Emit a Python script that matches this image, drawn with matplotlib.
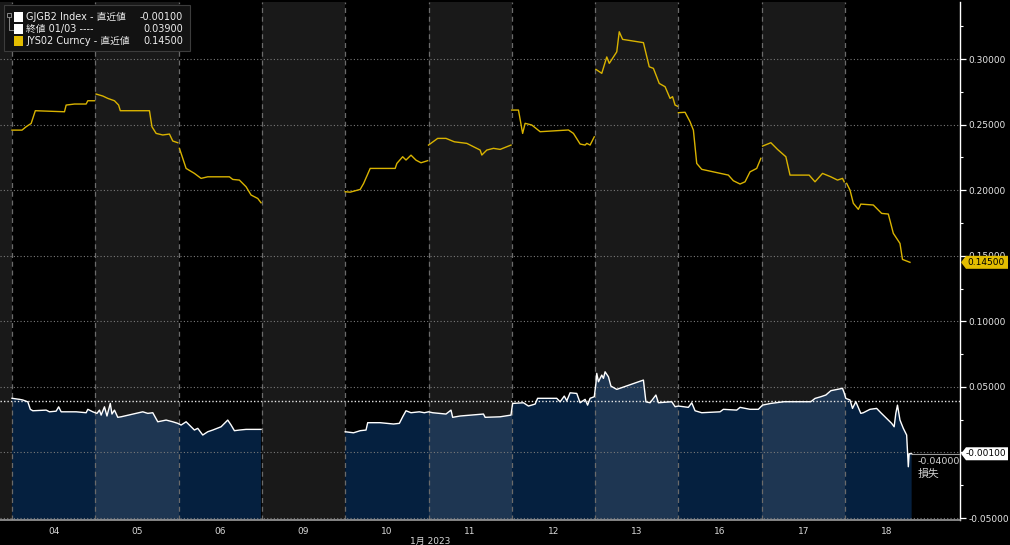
import numpy as np
import matplotlib
matplotlib.use('Agg')
import matplotlib.pyplot as plt
from matplotlib.patches import Polygon, Rectangle

nan = np.nan

# ---------------- data ----------------
days = ['04', '05', '06', '09', '10', '11', '12', '13', '16', '17', '18']
month_label = '1月 2023'
y_ticks = [-0.05, 0.0, 0.05, 0.10, 0.15, 0.20, 0.25, 0.30]
close_0103 = 0.039
jys_last = 0.145
gjgb_last = -0.001

# time = trading-day index + fraction of session ; nan = break
jys_t = [0.00, 0.12, 0.17, 0.23, 0.28, 0.63, 0.65, 0.75, 0.89, 0.91, 0.99, nan,
         1.01, 1.09, 1.15, 1.23, 1.28, 1.30, 1.65, 1.68, 1.73, 1.81, 1.89, 1.93, 1.99, nan,
         2.01, 2.09, 2.19, 2.27, 2.35, 2.61, 2.65, 2.73, 2.81, 2.87, 2.91, 2.95, 2.99, nan,
         4.00, 4.06, 4.18, 4.22, 4.30, 4.60, 4.62, 4.69, 4.73, 4.79, 4.85, 4.91, 4.99, nan,
         5.00, 5.11, 5.21, 5.31, 5.46, 5.62, 5.64, 5.70, 5.78, 5.86, 5.94, 5.99, nan,
         6.00, 6.08, 6.13, 6.16, 6.24, 6.34, 6.68, 6.74, 6.82, 6.88, 6.90, 6.94, 6.99, nan,
         7.01, 7.08, 7.14, 7.17, 7.26, 7.29, 7.33, 7.58, 7.65, 7.70, 7.77, 7.84, 7.90, 7.93, 7.96, 7.99, nan,
         8.00, 8.08, 8.14, 8.18, 8.22, 8.28, 8.60, 8.66, 8.74, 8.80, 8.86, 8.94, 8.99, nan,
         9.01, 9.11, 9.19, 9.29, 9.34, 9.57, 9.64, 9.73, 9.83, 9.91, 9.97, 9.99, nan,
         10.02, 10.06, 10.10, 10.16, 10.19, 10.34, 10.44, 10.52, 10.58, 10.66, 10.69, 10.78]
jys_v = [0.2458, 0.2458, 0.2484, 0.2509, 0.2606, 0.2598, 0.2649, 0.2657, 0.2657, 0.2682, 0.2682, nan,
         0.2733, 0.2718, 0.2700, 0.2682, 0.2649, 0.2606, 0.2606, 0.2484, 0.2433, 0.2421, 0.2428, 0.2375, 0.2362, nan,
         0.2319, 0.2166, 0.2128, 0.2090, 0.2102, 0.2102, 0.2082, 0.2077, 0.2026, 0.1963, 0.1950, 0.1937, 0.1904, nan,
         0.1988, 0.1985, 0.2006, 0.2050, 0.2166, 0.2166, 0.2204, 0.2255, 0.2230, 0.2267, 0.2229, 0.2209, 0.2225, nan,
         0.2344, 0.2395, 0.2395, 0.2369, 0.2357, 0.2306, 0.2268, 0.2306, 0.2319, 0.2311, 0.2331, 0.2344, nan,
         0.2611, 0.2611, 0.2433, 0.2510, 0.2497, 0.2446, 0.2459, 0.2433, 0.2352, 0.2344, 0.2357, 0.2344, 0.2407, nan,
         0.2921, 0.2891, 0.3016, 0.2967, 0.3055, 0.3208, 0.3150, 0.3125, 0.2941, 0.2929, 0.2814, 0.2789, 0.2700, 0.2713, 0.2649, 0.2640, nan,
         0.2591, 0.2594, 0.2522, 0.2458, 0.2204, 0.2159, 0.2115, 0.2072, 0.2047, 0.2064, 0.2140, 0.2166, 0.2243, nan,
         0.2336, 0.2362, 0.2311, 0.2255, 0.2115, 0.2115, 0.2064, 0.2128, 0.2102, 0.2077, 0.2090, 0.2064, nan,
         0.2052, 0.2001, 0.1900, 0.1854, 0.1894, 0.1887, 0.1823, 0.1818, 0.1671, 0.1594, 0.1472, 0.1450]

gjgb_t = [0.00, 0.09, 0.13, 0.19, 0.22, 0.25, 0.41, 0.45, 0.53, 0.56, 0.59, 0.77, 0.89, 0.91, 0.97,
          1.02, 1.05, 1.07, 1.11, 1.14, 1.18, 1.20, 1.23, 1.27, 1.31, 1.57, 1.63, 1.69, 1.75, 1.85, 1.93, 1.99,
          2.03, 2.09, 2.15, 2.19, 2.23, 2.29, 2.35, 2.41, 2.51, 2.59, 2.63, 2.67, 2.73, 2.81, 2.99, nan,
          4.00, 4.10, 4.18, 4.25, 4.27, 4.42, 4.58, 4.65, 4.69, 4.73, 4.79, 4.89, 4.95,
          5.00, 5.05, 5.21, 5.27, 5.29, 5.38, 5.66, 5.68, 5.86, 5.99,
          6.01, 6.14, 6.20, 6.28, 6.31, 6.54, 6.58, 6.63, 6.66, 6.70, 6.78, 6.82, 6.88, 6.91, 6.94, 6.99,
          7.01, 7.02, 7.04, 7.08, 7.10, 7.12, 7.16, 7.19, 7.26, 7.58, 7.61, 7.66, 7.73, 7.76, 7.92, 7.96,
          8.00, 8.12, 8.16, 8.20, 8.28, 8.50, 8.54, 8.70, 8.74, 8.86, 8.96,
          9.01, 9.11, 9.27, 9.59, 9.64, 9.71, 9.77, 9.83, 9.91, 9.97, 9.99,
          10.01, 10.06, 10.09, 10.13, 10.19, 10.22, 10.30, 10.38, 10.43, 10.56, 10.59, 10.61, 10.63,
          10.66, 10.70, 10.74, 10.76, 10.77, 10.80]
gjgb_v = [0.0413, 0.0405, 0.0400, 0.0386, 0.0329, 0.0318, 0.0323, 0.0310, 0.0315, 0.0348, 0.0310, 0.0310, 0.0303, 0.0329, 0.0310,
          0.0298, 0.0323, 0.0285, 0.0348, 0.0278, 0.0374, 0.0293, 0.0323, 0.0268, 0.0272, 0.0310, 0.0298, 0.0303, 0.0234, 0.0247, 0.0234, 0.0222,
          0.0209, 0.0234, 0.0196, 0.0171, 0.0184, 0.0133, 0.0158, 0.0171, 0.0196, 0.0247, 0.0209, 0.0166, 0.0171, 0.0176, 0.0176, nan,
          0.0158, 0.0150, 0.0166, 0.0171, 0.0227, 0.0227, 0.0217, 0.0222, 0.0272, 0.0318, 0.0303, 0.0310, 0.0303,
          0.0310, 0.0303, 0.0293, 0.0323, 0.0268, 0.0278, 0.0293, 0.0268, 0.0272, 0.0285,
          0.0374, 0.0379, 0.0354, 0.0369, 0.0413, 0.0413, 0.0386, 0.0430, 0.0394, 0.0455, 0.0450, 0.0379, 0.0405, 0.0361, 0.0413, 0.0425,
          0.0527, 0.0603, 0.0539, 0.0590, 0.0565, 0.0615, 0.0577, 0.0506, 0.0481, 0.0552, 0.0386, 0.0379, 0.0438, 0.0379, 0.0387, 0.0349,
          0.0354, 0.0344, 0.0379, 0.0318, 0.0303, 0.0310, 0.0329, 0.0323, 0.0344, 0.0329, 0.0329,
          0.0361, 0.0374, 0.0387, 0.0387, 0.0412, 0.0425, 0.0438, 0.0471, 0.0481, 0.0489, 0.0455,
          0.0412, 0.0400, 0.0336, 0.0387, 0.0298, 0.0303, 0.0329, 0.0336, 0.0303, 0.0222, 0.0196, 0.0298, 0.0361,
          0.0247, 0.0184, 0.0133, -0.0109, -0.0010, -0.0010]

# ---------------- styling ----------------
FONT = ['DejaVu Sans', 'Noto Sans CJK JP']
plt.rcParams['font.family'] = FONT
W, H = 1010, 545
fig = plt.figure(figsize=(W / 100, H / 100), dpi=100, facecolor='black')
ax = fig.add_axes([0, 25 / H, 960 / W, 518 / H], facecolor='black')

XMIN, XMAX = -12 / 83.3, 948 / 83.3
YMIN, YMAX = -0.0515, 0.3435
ax.set_xlim(XMIN, XMAX)
ax.set_ylim(YMIN, YMAX)

t_g = np.array(gjgb_t, dtype=float)
v_g = np.array(gjgb_v, dtype=float)
t_j = np.array(jys_t, dtype=float)
v_j = np.array(jys_v, dtype=float)

NAVY = '#05203f'
ax.fill_between(t_g, v_g, YMIN, where=~np.isnan(v_g), color=NAVY, lw=0, zorder=1)

# alternating session shading
shade_starts = [XMIN, 1, 3, 5, 7, 9]
for s in shade_starts:
    e = 0 if s == XMIN else s + 1
    ax.axvspan(s, e, color='white', alpha=0.1, lw=0, zorder=1.5)

# vertical session separators
for i in range(len(days)):
    ax.axvline(i, color='#6a6a6a', lw=0.9, ls=(0, (4, 3)), zorder=2)

# horizontal grid
for yv in y_ticks:
    ax.axhline(yv, color='#7a7a7a', lw=0.8, ls=(0, (1, 2)), zorder=2)
ax.axhline(close_0103, color='#e8e8e8', lw=1.0, ls=(0, (1, 1.5)), zorder=2.5)

# series
ax.plot(t_j, v_j, color='#d9b300', lw=1.0, zorder=3)
ax.plot(t_g, v_g, color='white', lw=1.0, zorder=3.2)
ax.plot([t_g[-1], XMAX], [gjgb_last, gjgb_last], color='#9a9a9a', lw=0.8, zorder=2.6)

# axes
for sp in ['top', 'left']:
    ax.spines[sp].set_visible(False)
ax.spines['right'].set_color('white')
ax.spines['right'].set_linewidth(1.0)
ax.spines['bottom'].set_color('#9a9a9a')
ax.spines['bottom'].set_linewidth(1.2)

ax.yaxis.tick_right()
ax.set_yticks(y_ticks)
# the 0.00000 label sits under the last-value tag, as in the reference
ax.set_yticklabels(['' if v == 0 else ('%.5f' % v if v > 0 else '-%.5f' % abs(v)) for v in y_ticks])
ax.set_yticks(np.arange(-0.025, 0.33, 0.05), minor=True)
ax.tick_params(axis='y', which='major', colors='white', labelcolor='#e6e6e6',
               length=4, width=0.9, labelsize=6.5, pad=2)
ax.tick_params(axis='y', which='minor', colors='white', length=2.5, width=0.8)

ax.set_xticks(np.arange(len(days)) + 0.5)
ax.set_xticklabels(days)
ax.tick_params(axis='x', length=0, labelcolor='#d8d8d8', labelsize=6.5, pad=5)
fig.text(430 / W, 1 - 541 / H, month_label, color='#d8d8d8', fontsize=6.5,
         ha='center', va='center', family=FONT)

# --------- value tags on right axis ---------
def to_fig(xpix, ypix_disp):
    return fig.transFigure.inverted().transform((xpix, ypix_disp))

def tag(val, face, txt, txtcol):
    yd = ax.transData.transform((0, val))[1]
    x0 = 961
    pts_pix = [(x0, yd), (x0 + 5, yd + 6.5), (1008, yd + 6.5), (1008, yd - 6.5), (x0 + 5, yd - 6.5)]
    pts = [to_fig(px, py) for px, py in pts_pix]
    fig.patches.append(Polygon(pts, closed=True, facecolor=face, edgecolor='none',
                               transform=fig.transFigure, zorder=10))
    cx, cy = to_fig(986, yd)
    fig.text(cx, cy, txt, color=txtcol, fontsize=6.5, ha='center', va='center', zorder=11)

tag(jys_last, '#e3bd00', '%.5f' % jys_last, 'black')
tag(gjgb_last, 'white', '-%.5f' % abs(gjgb_last), 'black')

# loss annotation
fig.text(918 / W, 1 - 462 / H, '-0.04000', color='#d0d0d0', fontsize=6.8, ha='left', va='center')
fig.text(918 / W, 1 - 474 / H, '損失', color='#d0d0d0', fontsize=7.8, ha='left', va='center', family=FONT)

# --------- legend box ---------
def fx(px):
    return px / W

def fy(py):
    return 1 - py / H

fig.patches.append(Rectangle((fx(4), fy(51)), fx(190) - fx(4), fy(5) - fy(51),
                             transform=fig.transFigure, facecolor='#121212',
                             edgecolor='#3c3c3c', lw=0.8, zorder=10))
# tree icon
fig.patches.append(Rectangle((fx(7), fy(17)), fx(4), 4 / H, transform=fig.transFigure,
                             facecolor='none', edgecolor='#9a9a9a', lw=0.6, zorder=11))
fig.add_artist(plt.Line2D([fx(9), fx(9), fx(13)], [fy(17), fy(30), fy(30)],
                          transform=fig.transFigure, color='#9a9a9a', lw=0.6, zorder=11))

legend_rows = [('white', 'GJGB2 Index - 直近値', '-0.00100', 17),
               ('white', '終値 01/03 ----', '0.03900', 29),
               ('#e3bd00', 'JYS02 Curncy - 直近値', '0.14500', 41)]
for col, lab, val, py in legend_rows:
    fig.patches.append(Rectangle((fx(14), fy(py + 4.5)), fx(9), 9 / H, transform=fig.transFigure,
                                 facecolor=col, edgecolor='none', zorder=11))
    fig.text(fx(26), fy(py), lab, color='#eeeeee', fontsize=7, ha='left', va='center',
             family=FONT, zorder=12)
    fig.text(fx(183), fy(py), val, color='#eeeeee', fontsize=7, ha='right', va='center',
             zorder=12)

fig.savefig('out.png', dpi=100, facecolor='black')
